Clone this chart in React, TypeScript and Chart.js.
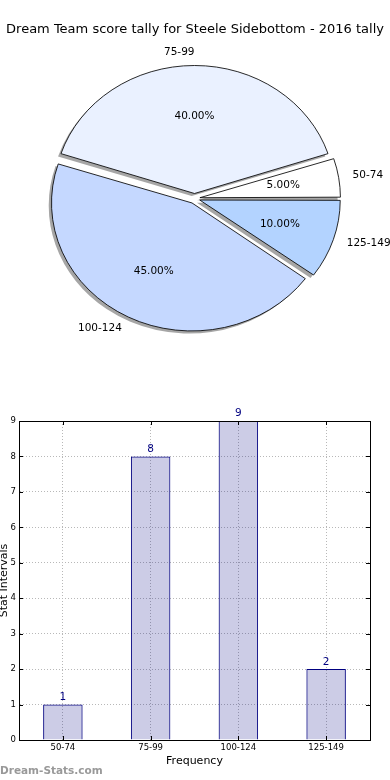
import React, { useEffect, useRef } from "react";
import { Chart, registerables } from "chart.js";

Chart.register(...registerables);

// ---- data ----
const TITLE = "Dream Team score tally for Steele Sidebottom - 2016 tally";
const categories = ["50-74", "75-99", "100-124", "125-149"];
const counts = [1, 8, 9, 2];
const pieColors = ["#ffffff", "#eaf1ff", "#c5d8ff", "#b3d3ff"];
const Y_MIN = 0;
const Y_MAX = 9;
const Y_STEP = 1;
const X_TITLE = "Frequency";
const Y_TITLE = "Stat Intervals";
const WATERMARK = "Dream-Stats.com";

// ---- style ----
const FONT = "DejaVu Sans";
const PIE_R = 128;
const SX = 140.5 / 128;
const EXPLODE = 5;
const pieOrder = [3, 2, 1, 0]; // drawn clockwise from 3 o'clock => matplotlib CCW order

const total = counts.reduce((a, b) => a + b, 0);

function arcFix(arc: any) {
  const c = arc.endAngle - arc.startAngle;
  return 1 - Math.sin(Math.min(Math.PI, c));
}
function effOffset(arc: any) {
  return (arc.options.offset || 0) / 4;
}

const piePlugin = {
  id: "pieDecor",
  beforeDatasetsDraw(chart: any) {
    const ctx = chart.ctx;
    const meta = chart.getDatasetMeta(0);
    const baseR = meta.controller.outerRadius;
    const a0 = meta.data[0];
    const cx = a0.x;
    const cy = a0.y;
    ctx.save();
    ctx.translate(cx, cy);
    ctx.scale(SX, 1);
    ctx.translate(-cx, -cy);
    meta.data.forEach((arc: any) => {
      const off = effOffset(arc);
      // compensate the radius growth chart.js applies to offset arcs
      arc.outerRadius = baseR - off * arcFix(arc);
      const mid = (arc.startAngle + arc.endAngle) / 2;
      const ox = arc.x + Math.cos(mid) * off - 2.8 / SX;
      const oy = arc.y + Math.sin(mid) * off + 2.6;
      ctx.beginPath();
      ctx.moveTo(ox, oy);
      ctx.arc(ox, oy, baseR, arc.startAngle, arc.endAngle);
      ctx.closePath();
      ctx.fillStyle = "rgba(77,77,77,0.5)";
      ctx.fill();
    });
  },
  afterDatasetsDraw(chart: any) {
    chart.ctx.restore();
  },
  afterDraw(chart: any) {
    const ctx = chart.ctx;
    const meta = chart.getDatasetMeta(0);
    const baseR = meta.controller.outerRadius;
    const cx = meta.data[0].x;
    ctx.save();
    ctx.fillStyle = "#000";
    ctx.font = `13px ${FONT}`;
    ctx.textAlign = "center";
    ctx.textBaseline = "middle";
    ctx.fillText(TITLE, 195, 30);
    ctx.font = `10.5px ${FONT}`;
    meta.data.forEach((arc: any, k: number) => {
      const ci = pieOrder[k];
      const off = effOffset(arc);
      const mid = (arc.startAngle + arc.endAngle) / 2;
      const R = baseR;
      const c = Math.cos(mid);
      const s = Math.sin(mid);
      const lx = cx + (arc.x + c * (off + 1.1 * R) - cx) * SX;
      const ly = arc.y + s * (off + 1.1 * R);
      ctx.textAlign = c > 1e-6 ? "left" : "right";
      ctx.fillText(categories[ci], lx, ly);
      const px = cx + (arc.x + c * (off + 0.6 * R) - cx) * SX;
      const py = arc.y + s * (off + 0.6 * R);
      ctx.textAlign = "center";
      const pct = ((counts[ci] / total) * 100).toFixed(2) + "%";
      ctx.fillText(pct, px, py);
    });
    ctx.restore();
  },
};

const barPlugin = {
  id: "barDecor",
  afterDraw(chart: any) {
    const ctx = chart.ctx;
    const { left, right, top, bottom } = chart.chartArea;
    const xs = chart.scales.x;
    const ys = chart.scales.y;
    ctx.save();
    // spines
    ctx.strokeStyle = "#000";
    ctx.lineWidth = 1;
    ctx.beginPath();
    ctx.moveTo(left, top + 0.5);
    ctx.lineTo(right, top + 0.5);
    ctx.moveTo(right + 0.5, top);
    ctx.lineTo(right + 0.5, bottom);
    ctx.stroke();
    // inward ticks
    ctx.beginPath();
    ys.ticks.forEach((t: any) => {
      const y = Math.round(ys.getPixelForValue(t.value)) + 0.5;
      ctx.moveTo(left, y);
      ctx.lineTo(left + 4, y);
      ctx.moveTo(right, y);
      ctx.lineTo(right - 4, y);
    });
    categories.forEach((_c, i) => {
      const x = Math.round(xs.getPixelForValue(i)) + 0.5;
      ctx.moveTo(x, bottom);
      ctx.lineTo(x, bottom - 4);
      ctx.moveTo(x, top);
      ctx.lineTo(x, top + 4);
    });
    ctx.stroke();
    // value labels
    const meta = chart.getDatasetMeta(0);
    ctx.fillStyle = "#000080";
    ctx.font = `10.5px ${FONT}`;
    ctx.textAlign = "center";
    ctx.textBaseline = "bottom";
    meta.data.forEach((bar: any, i: number) => {
      ctx.fillText(String(counts[i]), bar.x, bar.y - 2);
    });
    // axis titles
    ctx.fillStyle = "#000";
    ctx.textBaseline = "middle";
    ctx.font = `11px ${FONT}`;
    ctx.fillText(X_TITLE, (left + right) / 2, bottom + 21);
    ctx.save();
    ctx.translate(4, (top + bottom) / 2);
    ctx.rotate(-Math.PI / 2);
    ctx.fillText(Y_TITLE, 0, 0);
    ctx.restore();
    // watermark
    ctx.fillStyle = "#999999";
    ctx.font = `bold 10.5px ${FONT}`;
    ctx.textAlign = "left";
    ctx.fillText(WATERMARK, 0, bottom + 31);
    ctx.restore();
  },
};

export default function App() {
  const pieRef = useRef<HTMLCanvasElement>(null);
  const barRef = useRef<HTMLCanvasElement>(null);

  useEffect(() => {
    const pie = new Chart(pieRef.current!, {
      type: "pie",
      data: {
        labels: pieOrder.map((i) => categories[i]),
        datasets: [
          {
            data: pieOrder.map((i) => counts[i]),
            backgroundColor: pieOrder.map((i) => pieColors[i]),
            borderColor: "#000",
            borderWidth: 0.8,
            offset: 4 * EXPLODE,
            clip: false as any,
          } as any,
        ],
      },
      options: {
        responsive: false,
        animation: false,
        events: [],
        rotation: 90,
        radius: PIE_R,
        layout: { padding: { left: 0, right: 1, top: 0, bottom: 3 } },
        plugins: {
          legend: { display: false },
          tooltip: { enabled: false },
          title: { display: false },
        },
      } as any,
      plugins: [piePlugin],
    });

    const gridCommon = {
      color: "#b8b8b8",
      lineWidth: 1,
      drawTicks: false,
    };
    const borderCommon = { display: true, color: "#000", width: 1, dash: [1, 2] };
    const bar = new Chart(barRef.current!, {
      type: "bar",
      data: {
        labels: categories,
        datasets: [
          {
            data: counts,
            backgroundColor: "rgba(0,0,128,0.2)",
            borderColor: "#000080",
            borderWidth: 1,
            barPercentage: 0.45,
            categoryPercentage: 1,
          },
        ],
      },
      options: {
        responsive: false,
        animation: false,
        events: [],
        layout: { padding: { left: 0, right: 20, top: 31, bottom: 0 } },
        plugins: { legend: { display: false }, tooltip: { enabled: false } },
        scales: {
          x: {
            grid: { ...gridCommon, offset: false },
            border: borderCommon,
            ticks: {
              font: { family: FONT, size: 8.5 },
              color: "#000",
              padding: 3,
              maxRotation: 0,
            },
            afterFit: (s: any) => {
              s.height = 40;
            },
          },
          y: {
            min: Y_MIN,
            max: Y_MAX,
            grid: gridCommon,
            border: borderCommon,
            ticks: {
              stepSize: Y_STEP,
              font: { family: FONT, size: 8.5 },
              color: "#000",
              padding: 3,
            },
            afterFit: (s: any) => {
              s.width = 19;
            },
          },
        },
      } as any,
      plugins: [barPlugin],
    });

    return () => {
      pie.destroy();
      bar.destroy();
    };
  }, []);

  return (
    <div style={{ position: "absolute", left: 0, top: 0, width: 390, height: 780, background: "#fff" }}>
      <canvas ref={pieRef} width={390} height={400} style={{ position: "absolute", left: 0, top: 0 }} />
      <canvas ref={barRef} width={390} height={390} style={{ position: "absolute", left: 0, top: 390 }} />
    </div>
  );
}
